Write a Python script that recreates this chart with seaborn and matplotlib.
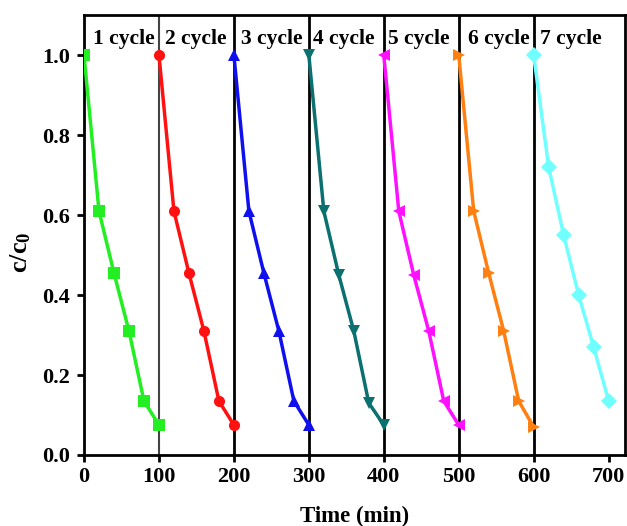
import matplotlib
matplotlib.use("Agg")
import matplotlib.pyplot as plt
import seaborn as sns
import pandas as pd

sns.set_theme(style="white")
plt.rcParams['font.family'] = ['Liberation Serif', 'DejaVu Serif']
plt.rcParams['font.weight'] = 'bold'
plt.rcParams['text.color'] = 'black'
plt.rcParams['axes.labelcolor'] = 'black'
plt.rcParams['mathtext.fontset'] = 'custom'
plt.rcParams['mathtext.rm'] = 'Liberation Serif:bold'
plt.rcParams['mathtext.bf'] = 'Liberation Serif:bold'
plt.rcParams['mathtext.it'] = 'Liberation Serif:bold'

cycles = ["1 cycle", "2 cycle", "3 cycle", "4 cycle", "5 cycle", "6 cycle", "7 cycle"]
time_c1 = [0, 20, 40, 60, 80, 100]
time_c2 = [100, 120, 140, 160, 180, 200]
time_c3 = [200, 220, 240, 260, 280, 300]
time_c4 = [300, 320, 340, 360, 380, 400]
time_c5 = [400, 420, 440, 460, 480, 500]
time_c6 = [500, 520, 540, 560, 580, 600]
time_c7 = [600, 620, 640, 660, 680, 700]
cc0_c1 = [1.0, 0.61, 0.455, 0.31, 0.135, 0.075]
cc0_c2 = [1.0, 0.61, 0.455, 0.31, 0.135, 0.075]
cc0_c3 = [1.0, 0.61, 0.455, 0.31, 0.135, 0.075]
cc0_c4 = [1.0, 0.61, 0.45, 0.31, 0.13, 0.075]
cc0_c5 = [1.0, 0.61, 0.45, 0.31, 0.135, 0.075]
cc0_c6 = [1.0, 0.61, 0.455, 0.31, 0.135, 0.07]
cc0_c7 = [1.0, 0.72, 0.55, 0.40, 0.27, 0.135]
boundaries = [100, 200, 300, 400, 500, 600]
label_x = [12, 108, 210, 306, 405, 512, 609]
label_y = 1.04

times = [time_c1, time_c2, time_c3, time_c4, time_c5, time_c6, time_c7]
vals = [cc0_c1, cc0_c2, cc0_c3, cc0_c4, cc0_c5, cc0_c6, cc0_c7]
rows = []
for c, t, v in zip(cycles, times, vals):
    for ti, vi in zip(t, v):
        rows.append({"cycle": c, "time": ti, "cc0": vi})
df = pd.DataFrame(rows)

colors = ["#22ee22", "#ff1111", "#1010ee", "#0b7070", "#ff10ff", "#ff7f10", "#70ffff"]
markers = ["s", "o", "^", "v", "<", ">", "D"]

fig = plt.figure(figsize=(6.27, 5.26), dpi=100)
ax = fig.add_axes([0.134, 0.135, 0.863, 0.836])

for b in boundaries:
    ax.axvline(b, color="black" if b != 100 else "#444444", lw=2.0 if b != 100 else 1.5, zorder=1)

sns.lineplot(data=df, x="time", y="cc0", hue="cycle", style="cycle",
             palette=dict(zip(cycles, colors)), markers=dict(zip(cycles, markers)),
             dashes=False, markersize=8, markeredgewidth=0, lw=2.5, legend=False,
             ax=ax, zorder=3)

for c, x in zip(cycles, label_x):
    ax.text(x, label_y, c, fontsize=15.5, fontweight='bold', ha='left', va='center',
            color='black')

ax.set_xlim(0, 722)
ax.set_ylim(0, 1.1)
ax.set_xticks([0, 100, 200, 300, 400, 500, 600, 700])
ax.set_yticks([0.0, 0.2, 0.4, 0.6, 0.8, 1.0])
ax.set_yticklabels(["0.0", "0.2", "0.4", "0.6", "0.8", "1.0"])
ax.set_xlabel("Time (min)", fontsize=16.5, fontweight='bold', color='black')
ax.set_ylabel(r"c/c$_\mathbf{0}$", fontsize=19, fontweight='bold', color='black')
ax.xaxis.set_label_coords(0.5, -0.115)
ax.yaxis.set_label_coords(-0.095, 0.46)
for s in ax.spines.values():
    s.set_linewidth(2.0)
    s.set_color("black")
ax.tick_params(axis='both', direction='out', length=5, width=2, labelsize=16,
               bottom=True, left=True, colors='black')
ax.tick_params(axis='y', pad=5)
for lab in ax.get_xticklabels() + ax.get_yticklabels():
    lab.set_fontweight('bold')

fig.savefig("out.png", dpi=100)
